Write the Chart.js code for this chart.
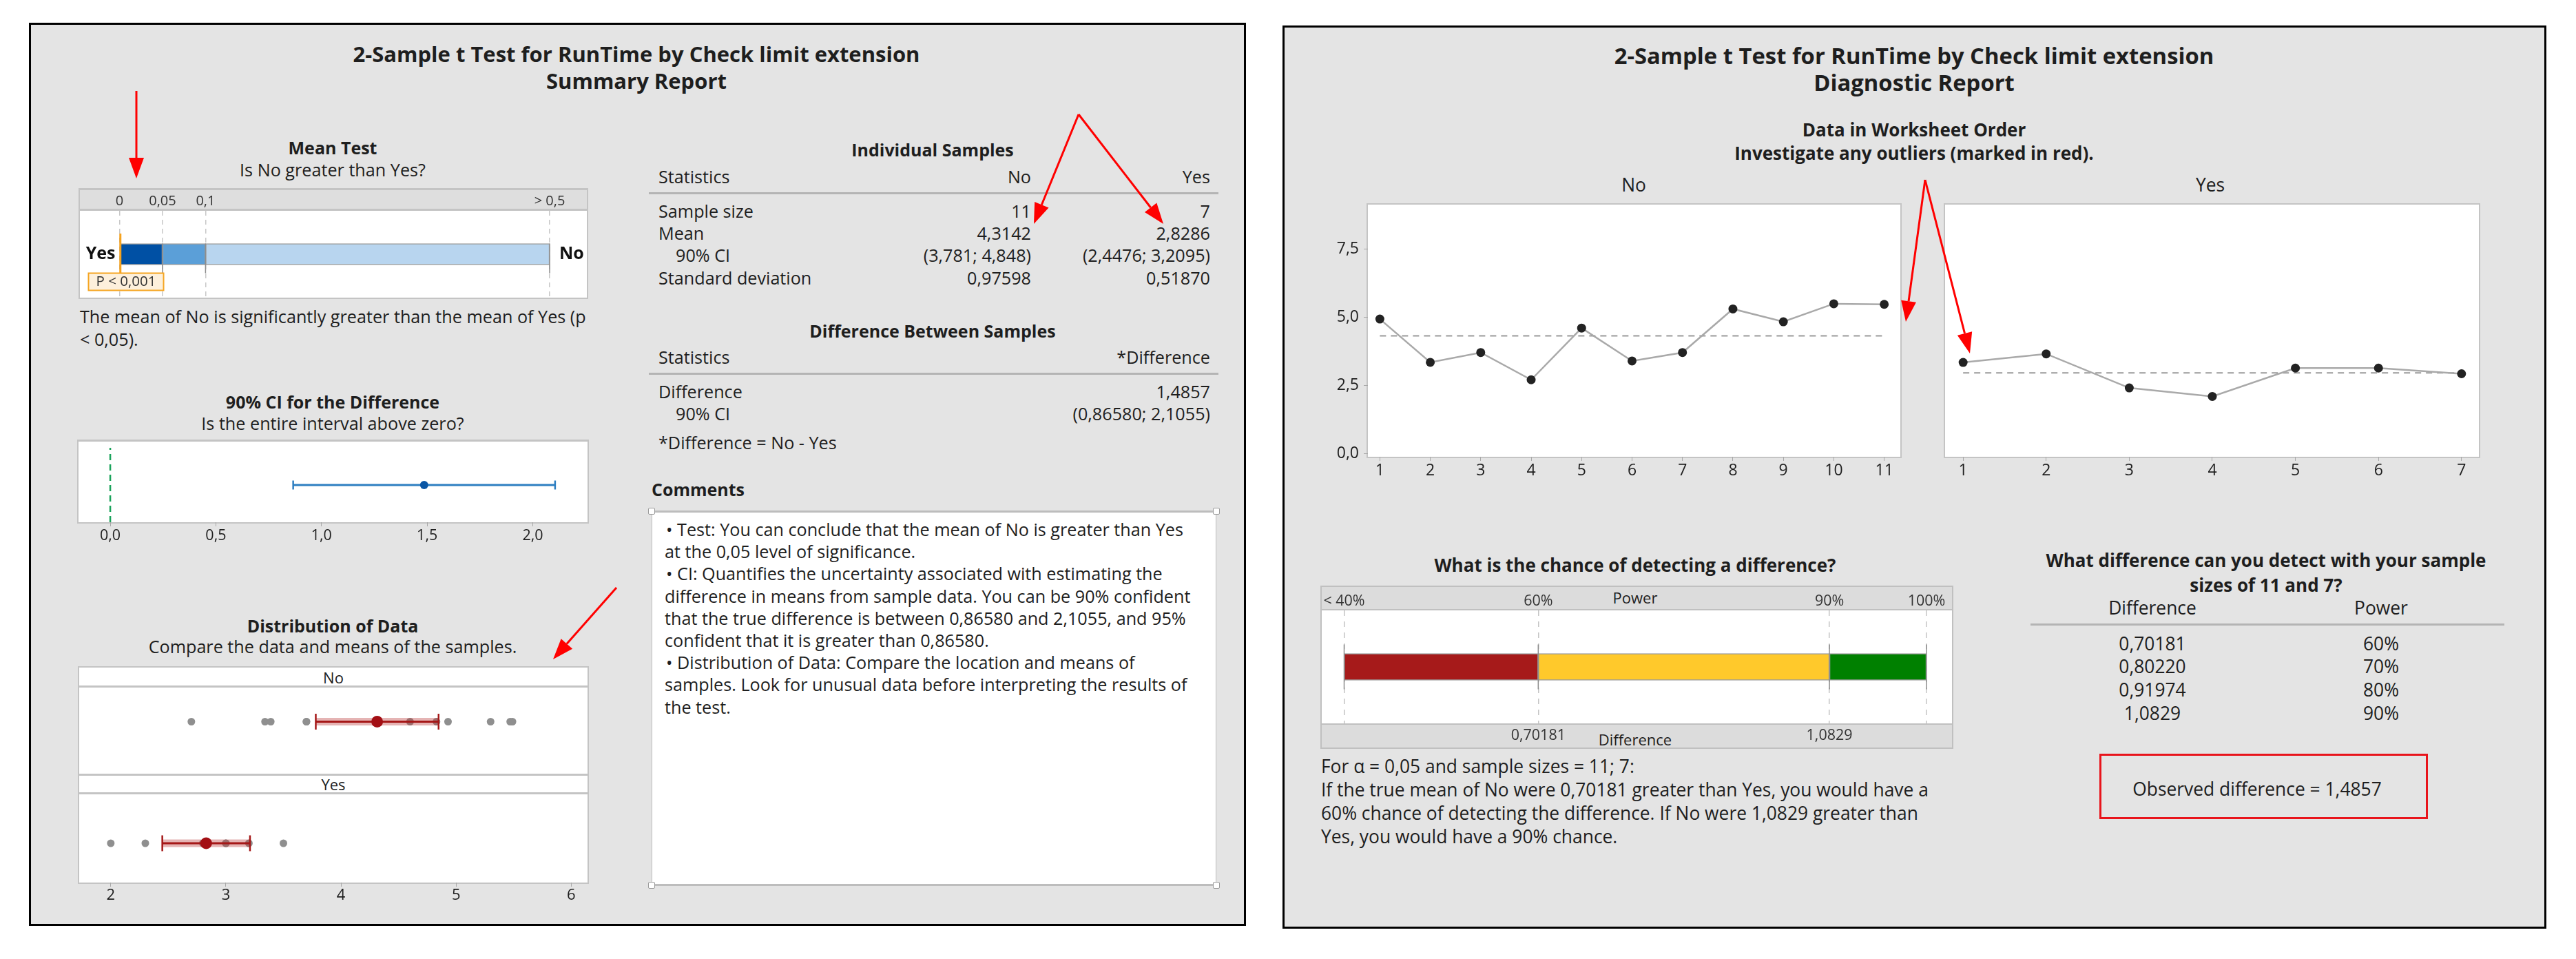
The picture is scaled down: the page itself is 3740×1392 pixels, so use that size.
<!DOCTYPE html>
<html>
<head>
<meta charset="utf-8">
<script src="https://cdn.jsdelivr.net/npm/chart.js@4.4.1/dist/chart.umd.min.js"></script>
<style>
  body { margin:0; width:3740px; height:1392px; background:#fff; position:relative; overflow:hidden;
         font-family:'Open Sans', sans-serif; color:#1e1e1e; }
  .panel { position:absolute; background:#e4e4e4; border:3px solid #000; box-sizing:border-box; }
  .t { position:absolute; white-space:nowrap; line-height:1; }
  .r { position:absolute; box-sizing:border-box; }
  canvas { position:absolute; }
</style>
</head>
<body>
<script>
// ---- data read from the reports ----
const groups = ['No', 'Yes'];
const runNo  = [4.93, 3.34, 3.70, 2.70, 4.60, 3.39, 3.70, 5.30, 4.83, 5.49, 5.47];
const runYes = [3.20, 3.50, 2.30, 2.00, 3.00, 3.00, 2.80];
const sampleSizes = ['11', '7'];
const sampleMeans = [4.3142, 2.8286];
const sampleMeanLabels = ['4,3142', '2,8286'];
const sampleCIs = [[3.781, 4.848], [2.4476, 3.2095]];
const sampleCILabels = ['(3,781; 4,848)', '(2,4476; 3,2095)'];
const sampleSDLabels = ['0,97598', '0,51870'];
const diffValue = 1.4857;
const diffCI = [0.86580, 2.1055];
const diffLabels = ['1,4857', '(0,86580; 2,1055)'];
const pValue = 0.001;
const pLabel = 'P < 0,001';
const pTicks = [0, 0.05, 0.1, 0.5];
const pTickLabels = ['0', '0,05', '0,1', '> 0,5'];
const pBandColors = ['#0050a4', '#5b9fd8', '#b8d5ef'];
const ciTicks = [0, 0.5, 1, 1.5, 2];
const distTicks = [2, 3, 4, 5, 6];
const runTicks = [0, 2.5, 5, 7.5];
const powerTicks = [40, 60, 90, 100];
const powerTickLabels = ['< 40%', '60%', '90%', '100%'];
const powerBandColors = ['#a61a1a', '#ffc92b', '#008000'];
const powerPct = [60, 70, 80, 90];
const detectDiffLabels = ['0,70181', '0,80220', '0,91974', '1,0829'];
const markPower = [60, 90];

const comma = (v, d) => v.toFixed(d).replace('.', ',');

// font sizes: left report, right report (the right screenshot is a bit larger)
const FS = { body: 25.2, head: 25, title: 31 };
const FR = { body: 26.4, head: 26, title: 32.8 };

// ---- little helpers ----
function txt(s, x, y, size, o) {
  o = o || {};
  const d = document.createElement('div');
  d.className = 't';
  d.textContent = s;
  d.style.fontSize = size + 'px';
  if (o.bold) d.style.fontWeight = '700';
  const tx = o.align === 'center' ? '-50%' : o.align === 'right' ? '-100%' : '0';
  d.style.left = x + 'px';
  d.style.top = y + 'px';
  d.style.transform = 'translate(' + tx + ',-50%)';
  document.body.appendChild(d);
}
function rect(x, y, w, h, css) {
  const d = document.createElement('div');
  d.className = 'r';
  d.style.cssText += 'left:' + x + 'px;top:' + y + 'px;width:' + w + 'px;height:' + h + 'px;' + (css || '');
  document.body.appendChild(d);
  return d;
}
function cv(x, y, w, h) {
  const c = document.createElement('canvas');
  c.width = w; c.height = h;
  c.style.left = x + 'px'; c.style.top = y + 'px';
  document.body.appendChild(c);
  return c.getContext('2d');
}
const fixH = h => s => { s.height = h; };
const fixW = w => s => { s.width = w; };
const setTicks = arr => s => { s.ticks = arr.map(v => ({ value: v })); };

Chart.defaults.font.family = "'Open Sans', sans-serif";
Chart.defaults.color = '#1e1e1e';
Chart.defaults.animation = false;
Chart.defaults.plugins.legend.display = false;
Chart.defaults.plugins.tooltip.enabled = false;

// ---- panels ----
const panelL = document.createElement('div');
panelL.className = 'panel';
panelL.style.cssText += 'left:42px;top:33px;width:1767px;height:1311px;';
document.body.appendChild(panelL);
const panelR = document.createElement('div');
panelR.className = 'panel';
panelR.style.cssText += 'left:1862px;top:37px;width:1835px;height:1311px;';
document.body.appendChild(panelR);

// ================= SUMMARY REPORT =================
txt('2-Sample t Test for RunTime by Check limit extension', 924, 78, FS.title, { bold: 1, align: 'center' });
txt('Summary Report', 924, 117, FS.title, { bold: 1, align: 'center' });

// --- mean test ---
txt('Mean Test', 483, 214, FS.head, { bold: 1, align: 'center' });
txt('Is No greater than Yes?', 483, 247, FS.body, { align: 'center' });
rect(114, 273, 740, 161, 'background:#fff;border:2px solid #c4c4c4;border-top-width:3px;');
rect(116, 276, 736, 27, 'background:#dedede;');
rect(116, 303, 736, 3, 'background:#c4c4c4;');

const meanTestMarks = {
  id: 'meanTestMarks',
  afterDatasetsDraw(chart) {
    const { ctx, scales: { x } } = chart;
    const bar = chart.getDatasetMeta(0).data[0];
    const top = bar.y - bar.height / 2, bot = bar.y + bar.height / 2;
    ctx.save();
    ctx.strokeStyle = '#8c8c8c'; ctx.lineWidth = 1.5;
    pTicks.slice(1).forEach(v => {
      const px = x.getPixelForValue(v);
      ctx.beginPath(); ctx.moveTo(px, top); ctx.lineTo(px, bot + 12); ctx.stroke();
    });
    const x0 = x.getPixelForValue(0);
    // p-value label box
    ctx.fillStyle = '#fdf0dc'; ctx.strokeStyle = '#f5a623'; ctx.lineWidth = 2;
    ctx.fillRect(x0 - 45, bot + 12, 109, 25);
    ctx.strokeRect(x0 - 45, bot + 12, 109, 25);
    ctx.fillStyle = '#333'; ctx.font = "20.5px 'Open Sans'"; ctx.textAlign = 'center'; ctx.textBaseline = 'middle';
    ctx.fillText(pLabel, x0 + 9.5, bot + 25);
    // p-value line
    const pp = x.getPixelForValue(pValue);
    ctx.strokeStyle = '#f5a21e'; ctx.lineWidth = 3;
    ctx.beginPath(); ctx.moveTo(pp, bar.y - 30); ctx.lineTo(pp, bot + 12); ctx.stroke();
    // group labels
    ctx.fillStyle = '#111'; ctx.font = "bold 25px 'Open Sans'";
    ctx.textAlign = 'right'; ctx.fillText(groups[1], x0 - 6, bar.y);
    ctx.textAlign = 'left'; ctx.fillText(groups[0], x.getPixelForValue(pTicks[3]) + 14, bar.y);
    ctx.restore();
  }
};
new Chart(cv(116, 276, 736, 156), {
  type: 'bar',
  data: {
    labels: ['p'],
    datasets: pBandColors.map((c, i) => ({
      data: [[pTicks[i], pTicks[i + 1]]],
      backgroundColor: c, borderColor: '#9c9c9c', borderWidth: 1.5, borderSkipped: false,
      grouped: false, barThickness: 31
    }))
  },
  options: {
    indexAxis: 'y', responsive: false, layout: { padding: 0 },
    scales: {
      x: {
        type: 'linear', position: 'top', min: -0.04604, max: 0.54324, afterFit: fixH(30),
        afterBuildTicks: setTicks(pTicks),
        ticks: { callback: (v, i) => pTickLabels[i], padding: 2, font: { size: 20 }, autoSkip: false, maxRotation: 0, color: '#333' },
        grid: { color: '#c8c8c8', lineWidth: 1.5, drawTicks: false },
        border: { display: false, dash: [7, 6] }
      },
      y: { display: false }
    }
  },
  plugins: [meanTestMarks]
});
txt('The mean of No is significantly greater than the mean of Yes (p', 116, 460, FS.body);
txt('< 0,05).', 116, 493, FS.body);

// --- CI for the difference ---
txt('90% CI for the Difference', 483, 583, FS.head, { bold: 1, align: 'center' });
txt('Is the entire interval above zero?', 483, 615, FS.body, { align: 'center' });
rect(112, 638, 743, 122, 'background:#fff;border:2px solid #c4c4c4;border-top-width:3px;');
new Chart(cv(114, 641, 739, 159), {
  type: 'scatter',
  data: {
    datasets: [
      { data: [{ x: diffValue, y: 0.5 }], pointRadius: 6, pointBackgroundColor: '#0a56a5', pointBorderWidth: 0, order: 0 },
      { data: [{ x: diffCI[0], y: 0.5 }, { x: diffCI[1], y: 0.5 }], showLine: true, borderColor: '#2d7fc1', borderWidth: 3,
        pointStyle: 'line', pointRotation: 90, pointRadius: 6.5, pointBorderColor: '#2d7fc1', pointBorderWidth: 2.5, order: 1 },
      { data: [{ x: 0, y: 0 }, { x: 0, y: 1 }], showLine: true, borderColor: '#1aa35b', borderWidth: 2.5,
        borderDash: [9, 6], pointRadius: 0, order: 2 }
    ]
  },
  options: {
    responsive: false, layout: { padding: 0 },
    scales: {
      x: {
        type: 'linear', min: -0.12087, max: 2.2297, afterFit: fixH(42), afterBuildTicks: setTicks(ciTicks),
        ticks: { callback: v => comma(v, 1), padding: 1, font: { size: 21.5 }, autoSkip: false, maxRotation: 0 },
        grid: { drawOnChartArea: false, tickLength: 6, color: '#a8a8a8' }, border: { display: false }
      },
      y: { display: false, min: 0, max: 1 }
    }
  }
});

// --- distribution of data ---
txt('Distribution of Data', 483, 908, FS.head, { bold: 1, align: 'center' });
txt('Compare the data and means of the samples.', 483, 939, FS.body, { align: 'center' });
rect(113, 967, 742, 316, 'background:#fff;border:2px solid #c4c4c4;');
rect(115, 995, 738, 3, 'background:#c4c4c4;');
rect(115, 1123, 738, 3, 'background:#c4c4c4;');
rect(115, 1150, 738, 3, 'background:#c4c4c4;');
txt(groups[0], 484, 983, 22, { align: 'center' });
txt(groups[1], 484, 1138, 22, { align: 'center' });

function distChart(ctx, vals, mean, ci, withAxis) {
  return new Chart(ctx, {
    type: 'scatter',
    data: {
      datasets: [
        { data: [{ x: mean, y: 0.5 }], pointRadius: 8.5, pointBackgroundColor: '#a30f14', pointBorderWidth: 0, order: 0 },
        { data: [{ x: ci[0], y: 0.5 }, { x: ci[1], y: 0.5 }], showLine: true, borderColor: '#a51717', borderWidth: 3,
          pointStyle: 'line', pointRotation: 90, pointRadius: 11.5, pointBorderColor: '#a51717', pointBorderWidth: 2.5, order: 1 },
        { data: [{ x: ci[0], y: 0.5 }, { x: ci[1], y: 0.5 }], showLine: true, borderColor: 'rgba(180,40,40,0.35)',
          borderWidth: 11, pointRadius: 0, order: 2 },
        { data: vals.map(v => ({ x: v, y: 0.5 })), pointRadius: 5.5, pointBackgroundColor: '#8f8f8f', pointBorderWidth: 0, order: 3 }
      ]
    },
    options: {
      responsive: false, layout: { padding: 0 },
      scales: {
        x: {
          type: 'linear', display: withAxis, min: 1.80944, max: 6.05814, afterFit: fixH(40), afterBuildTicks: setTicks(distTicks),
          ticks: { callback: v => String(v), padding: 0, font: { size: 22 }, autoSkip: false, maxRotation: 0 },
          grid: { drawOnChartArea: false, tickLength: 6, color: '#a8a8a8' }, border: { display: false }
        },
        y: { display: false, min: 0, max: 1 }
      }
    }
  });
}
distChart(cv(115, 998, 738, 125), runNo, sampleMeans[0], sampleCIs[0], false);
distChart(cv(115, 1153, 738, 168), runYes, sampleMeans[1], sampleCIs[1], true);

// --- tables ---
txt('Individual Samples', 1354, 217, FS.head, { bold: 1, align: 'center' });
txt('Statistics', 956, 257, FS.body);
txt(groups[0], 1497, 257, FS.body, { align: 'right' });
txt(groups[1], 1757, 257, FS.body, { align: 'right' });
rect(942, 279, 827, 3, 'background:#b4b4b4;');
const indivRows = [
  ['Sample size', sampleSizes],
  ['Mean', sampleMeanLabels],
  ['  90% CI', sampleCILabels],
  ['Standard deviation', sampleSDLabels]
];
indivRows.forEach((r, i) => {
  const y = 307 + i * 32.2;
  txt(r[0].trim(), r[0].startsWith(' ') ? 981 : 956, y, FS.body);
  txt(r[1][0], 1497, y, FS.body, { align: 'right' });
  txt(r[1][1], 1757, y, FS.body, { align: 'right' });
});
txt('Difference Between Samples', 1354, 480, FS.head, { bold: 1, align: 'center' });
txt('Statistics', 956, 519, FS.body);
txt('*Difference', 1757, 519, FS.body, { align: 'right' });
rect(942, 541, 827, 3, 'background:#b4b4b4;');
txt('Difference', 956, 569, FS.body);
txt(diffLabels[0], 1757, 569, FS.body, { align: 'right' });
txt('90% CI', 981, 601, FS.body);
txt(diffLabels[1], 1757, 601, FS.body, { align: 'right' });
txt('*Difference = No - Yes', 956, 643, FS.body);

// --- comments ---
txt('Comments', 946, 710, FS.head, { bold: 1 });
rect(946, 741, 820, 545, 'background:#fff;border:1.5px solid #bdbdbd;border-top-width:3px;border-bottom-width:3px;');
[[946, 742], [1766, 742], [946, 1285], [1766, 1285]].forEach(p =>
  rect(p[0] - 5, p[1] - 5, 10, 10, 'background:#fff;border:1.5px solid #9a9a9a;border-radius:2px;'));
const commentLines = [
  '\u2022  Test: You can conclude that the mean of No is greater than Yes',
  'at the 0,05 level of significance.',
  '\u2022  CI: Quantifies the uncertainty associated with estimating the',
  'difference in means from sample data. You can be 90% confident',
  'that the true difference is between 0,86580 and 2,1055, and 95%',
  'confident that it is greater than 0,86580.',
  '\u2022  Distribution of Data: Compare the location and means of',
  'samples. Look for unusual data before interpreting the results of',
  'the test.'
];
commentLines.forEach((s, i) => txt(s, s.startsWith('\u2022') ? 967 : 965, 769 + i * 32.2, FS.body));

// ================= DIAGNOSTIC REPORT =================
txt('2-Sample t Test for RunTime by Check limit extension', 2779, 81, FR.title, { bold: 1, align: 'center' });
txt('Diagnostic Report', 2779, 120, FR.title, { bold: 1, align: 'center' });
txt('Data in Worksheet Order', 2779, 188, FR.head, { bold: 1, align: 'center' });
txt('Investigate any outliers (marked in red).', 2779, 222, FR.head, { bold: 1, align: 'center' });
txt(groups[0], 2372, 268, FR.body, { align: 'center' });
txt(groups[1], 3209, 268, FR.body, { align: 'center' });

function runChart(ctx, vals, mean, xmin, xmax, withY) {
  const idx = vals.map((_, i) => i + 1);
  const yAxis = {
    type: 'linear', display: withY, min: -0.12643, max: 8.6045, afterBuildTicks: setTicks(runTicks),
    ticks: { callback: v => comma(v, 1), padding: 7, font: { size: 23 } },
    grid: { drawOnChartArea: false, tickLength: 6, color: '#a8a8a8' }, border: { display: false }
  };
  if (withY) yAxis.afterFit = fixW(88);
  return new Chart(ctx, {
    type: 'scatter',
    data: {
      datasets: [
        { data: vals.map((v, i) => ({ x: idx[i], y: v })), showLine: true, borderColor: '#a9a9a9', borderWidth: 2.5,
          pointRadius: 6.5, pointBackgroundColor: '#222', pointBorderColor: '#222', pointBorderWidth: 0, order: 0 },
        { data: [{ x: idx[0], y: mean }, { x: idx[idx.length - 1], y: mean }], showLine: true, borderColor: '#9a9a9a',
          borderWidth: 2, borderDash: [9, 7], pointRadius: 0, order: 1 }
      ]
    },
    options: {
      responsive: false, layout: { padding: 0 },
      scales: {
        x: {
          type: 'linear', min: xmin, max: xmax, afterFit: fixH(44), afterBuildTicks: setTicks(idx),
          ticks: { callback: v => String(v), padding: 1, font: { size: 23 }, autoSkip: false, maxRotation: 0 },
          grid: { drawOnChartArea: false, tickLength: 6, color: '#a8a8a8' }, border: { display: false }
        },
        y: yAxis
      }
    }
  });
}
rect(1984, 295, 777, 370, 'background:#fff;border:2px solid #c4c4c4;');
rect(2822, 295, 779, 370, 'background:#fff;border:2px solid #c4c4c4;');
runChart(cv(1898, 297, 861, 410), runNo, sampleMeans[0], 0.76303, 11.2302, true);
runChart(cv(2824, 297, 775, 410), runYes, sampleMeans[1], 0.83696, 7.15489, false);

// --- power bar ---
txt('What is the chance of detecting a difference?', 2374, 820, FR.head, { bold: 1, align: 'center' });
rect(1917, 850, 919, 237, 'background:#fff;border:2px solid #c0c0c0;');
rect(1919, 852, 915, 32, 'background:#dcdcdc;');
rect(1919, 884, 915, 2, 'background:#c0c0c0;');
rect(1919, 1050, 915, 2, 'background:#c0c0c0;');
rect(1919, 1052, 915, 33, 'background:#dcdcdc;');
txt('Power', 2374, 867, 22, { align: 'center' });
txt('Difference', 2374, 1073, 22, { align: 'center' });

const powerMarks = {
  id: 'powerMarks',
  afterDatasetsDraw(chart) {
    const { ctx, scales: { x } } = chart;
    const bar = chart.getDatasetMeta(0).data[0];
    const top = bar.y - bar.height / 2, bot = bar.y + bar.height / 2;
    ctx.save();
    ctx.strokeStyle = '#8c8c8c'; ctx.lineWidth = 1.5;
    powerTicks.forEach(v => {
      const px = x.getPixelForValue(v);
      ctx.beginPath(); ctx.moveTo(px, top - 13); ctx.lineTo(px, bot + 13); ctx.stroke();
    });
    ctx.restore();
  }
};
new Chart(cv(1919, 852, 915, 233), {
  type: 'bar',
  data: {
    labels: ['power'],
    datasets: powerBandColors.map((c, i) => ({
      data: [[powerTicks[i], powerTicks[i + 1]]],
      backgroundColor: c, borderColor: '#9a9a9a', borderWidth: 1.5, borderSkipped: false,
      grouped: false, barThickness: 39
    }))
  },
  options: {
    indexAxis: 'y', responsive: false, layout: { padding: 0 },
    scales: {
      x: {
        type: 'linear', position: 'top', min: 37.6937, max: 102.6256, afterFit: fixH(34),
        afterBuildTicks: setTicks(powerTicks),
        ticks: { callback: (v, i) => powerTickLabels[i], padding: 0, font: { size: 21.5 }, autoSkip: false, maxRotation: 0, color: '#333' },
        grid: { color: '#c4c4c4', lineWidth: 1.5, drawTicks: false },
        border: { display: false, dash: [8, 8] }
      },
      x2: {
        type: 'linear', axis: 'x', position: 'bottom', min: 37.6937, max: 102.6256, afterFit: fixH(35),
        afterBuildTicks: setTicks(markPower),
        ticks: { callback: v => detectDiffLabels[powerPct.indexOf(v)], padding: 5, font: { size: 21.5 }, autoSkip: false, maxRotation: 0, color: '#333' },
        grid: { display: false, drawTicks: false }, border: { display: false }
      },
      y: { display: false }
    }
  },
  plugins: [powerMarks]
});
txt('For \u03b1 = 0,05 and sample sizes = 11; 7:', 1918, 1112, FR.body);
txt('If the true mean of No were 0,70181 greater than Yes, you would have a', 1918, 1146, FR.body);
txt('60% chance of detecting the difference. If No were 1,0829 greater than', 1918, 1180, FR.body);
txt('Yes, you would have a 90% chance.', 1918, 1214, FR.body);

// --- detectable differences table ---
txt('What difference can you detect with your sample', 3290, 813, FR.head, { bold: 1, align: 'center' });
txt('sizes of 11 and 7?', 3290, 849, FR.head, { bold: 1, align: 'center' });
txt('Difference', 3125, 882, FR.body, { align: 'center' });
txt('Power', 3457, 882, FR.body, { align: 'center' });
rect(2948, 905, 688, 3, 'background:#b4b4b4;');
const rowY = [934, 967, 1001, 1035];
detectDiffLabels.forEach((d, i) => {
  txt(d, 3125, rowY[i], FR.body, { align: 'center' });
  txt(powerPct[i] + '%', 3457, rowY[i], FR.body, { align: 'center' });
});
rect(3048, 1094, 477, 95, 'border:3px solid #e8141b;');
txt('Observed difference = ' + diffLabels[0], 3277, 1145, FR.body, { align: 'center' });

// ---- red annotation arrows ----
const NS = 'http://www.w3.org/2000/svg';
const svg = document.createElementNS(NS, 'svg');
svg.setAttribute('width', 3740); svg.setAttribute('height', 1392);
svg.style.cssText = 'position:absolute;left:0;top:0;z-index:10;pointer-events:none;';
document.body.appendChild(svg);
function arrow(x1, y1, x2, y2) {
  const L = 30, W = 11;
  const dx = x2 - x1, dy = y2 - y1, d = Math.hypot(dx, dy), ux = dx / d, uy = dy / d;
  const bx = x2 - ux * L, by = y2 - uy * L;
  const ln = document.createElementNS(NS, 'line');
  ln.setAttribute('x1', x1); ln.setAttribute('y1', y1); ln.setAttribute('x2', bx); ln.setAttribute('y2', by);
  ln.setAttribute('stroke', '#ff0000'); ln.setAttribute('stroke-width', 3);
  svg.appendChild(ln);
  const pg = document.createElementNS(NS, 'polygon');
  pg.setAttribute('points', [x2, y2, bx - uy * W, by + ux * W, bx + uy * W, by - ux * W].join(','));
  pg.setAttribute('fill', '#ff0000');
  svg.appendChild(pg);
}
arrow(198, 132, 198, 259);
arrow(1566, 166, 1501, 325);
arrow(1566, 166, 1689, 325);
arrow(895, 853, 803, 957);
arrow(2795, 261, 2767, 467);
arrow(2795, 261, 2860, 513);
</script>
</body>
</html>
